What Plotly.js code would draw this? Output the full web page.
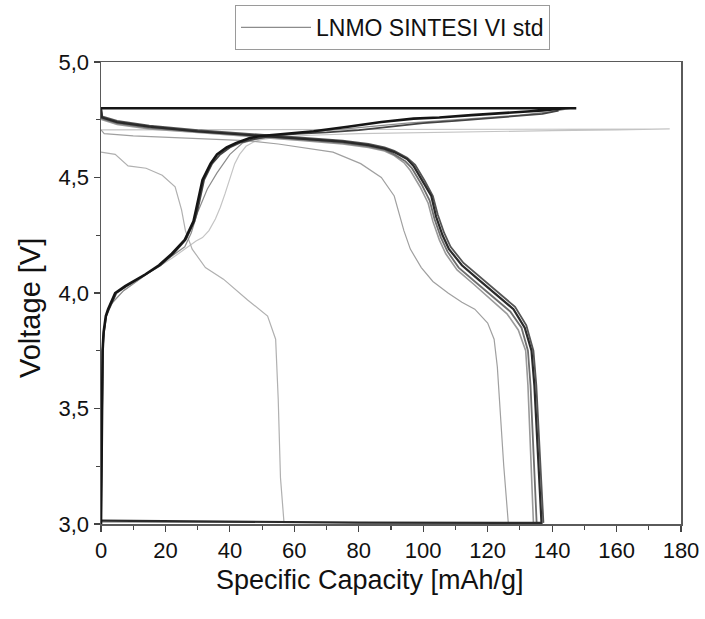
<!DOCTYPE html>
<html>
<head>
<meta charset="utf-8">
<script src="https://cdn.plot.ly/plotly-3.0.1.min.js"></script>
<style>html,body{margin:0;padding:0;background:#fff;}#chart{width:705px;height:619px;}</style>
</head>
<body>
<div id="chart"></div>
<script>
// ---- data (Specific Capacity mAh/g, Voltage V) ----
const seriesName = "LNMO SINTESI VI std";
const xTitle = "Specific Capacity [mAh/g]";
const yTitle = "Voltage [V]";

// cycle 1 charge (light, long plateau at 4.7 V) + return line
const c1ChargeX = [0, 0.4, 0.7, 1.5, 3, 7, 14, 22, 26, 27.7, 29.5, 31.5, 33.5, 35.5, 37, 38.5, 40, 41.5, 43, 45, 47.5, 50, 55, 65, 80, 100, 120, 140, 160, 176.5, 0];
const c1ChargeV = [3.0, 3.5, 3.8, 3.9, 3.95, 4.01, 4.08, 4.15, 4.19, 4.21, 4.225, 4.24, 4.27, 4.32, 4.37, 4.43, 4.50, 4.56, 4.60, 4.635, 4.655, 4.665, 4.675, 4.683, 4.69, 4.695, 4.70, 4.703, 4.706, 4.71, 4.706];

// cycle 1 discharge (~126 mAh/g) + return line
const c1DischX = [0, 1, 10, 30, 45, 55, 62, 72, 80.6, 87, 91, 92.5, 94, 96, 99.4, 103, 107.7, 112, 116, 120, 122, 123, 124, 125, 126.4, 0];
const c1DischV = [4.706, 4.69, 4.68, 4.67, 4.66, 4.645, 4.63, 4.61, 4.56, 4.5, 4.42, 4.35, 4.27, 4.19, 4.11, 4.05, 4.0, 3.96, 3.93, 3.87, 3.80, 3.68, 3.45, 3.25, 3.005, 3.008];

// short discharge (~57 mAh/g)
const shortDischX = [0, 4.4, 8.4, 14, 19, 23, 25, 26.2, 28.3, 32.4, 38, 45.5, 51.7, 54.2, 55, 55.7, 56.8];
const shortDischV = [4.61, 4.60, 4.55, 4.54, 4.51, 4.46, 4.36, 4.27, 4.19, 4.11, 4.06, 3.97, 3.90, 3.80, 3.54, 3.2, 3.005];

// cycle 2 charge (thin gray)
const c2ChargeX = [0, 0.4, 0.7, 1.5, 3, 7, 14, 22, 26, 28, 30, 33, 36, 40, 44, 48, 52, 60, 75, 95, 115, 130, 140, 146];
const c2ChargeV = [3.0, 3.5, 3.8, 3.9, 3.95, 4.01, 4.08, 4.16, 4.2, 4.26, 4.35, 4.45, 4.52, 4.6, 4.65, 4.665, 4.675, 4.69, 4.71, 4.735, 4.755, 4.77, 4.785, 4.80];

// dark charges + return line at 4.8 V
const chA_X = [0, 0.3, 0.5, 0.8, 1.5, 2.2, 4.4, 7.5, 13.7, 18, 22, 26, 28.7, 29.5, 31.5, 34, 36, 39, 42, 46, 49.5, 54, 58, 66, 76.6, 87, 97, 105, 115, 128, 137, 144, 147.5, 0];
const chA_V = [3.0, 3.5, 3.75, 3.83, 3.9, 3.93, 4.0, 4.03, 4.08, 4.12, 4.17, 4.23, 4.31, 4.36, 4.49, 4.56, 4.6, 4.63, 4.65, 4.67, 4.68, 4.685, 4.69, 4.70, 4.72, 4.74, 4.755, 4.76, 4.77, 4.78, 4.79, 4.80, 4.80, 4.80];
const chB_X = [0, 0.3, 0.5, 0.9, 1.6, 2.5, 4.8, 8, 14, 18.5, 22.5, 26.3, 29, 30, 32, 34.5, 37, 40, 43, 47, 51, 56, 62, 70, 80, 90, 100, 110, 120, 130, 137, 142];
const chB_V = [3.0, 3.5, 3.75, 3.83, 3.9, 3.93, 4.0, 4.03, 4.08, 4.12, 4.17, 4.23, 4.31, 4.36, 4.49, 4.56, 4.6, 4.63, 4.65, 4.665, 4.675, 4.685, 4.69, 4.695, 4.705, 4.72, 4.735, 4.745, 4.755, 4.765, 4.775, 4.79];

// dark discharges + return lines at 3.0 V
const dA_X = [0, 0.3, 5, 15, 30, 45, 55, 62, 75, 83, 88, 91, 95, 97, 100, 102.5, 104, 106, 108, 112, 117, 123, 128, 131.5, 133.6, 134.5, 135.5, 136.7, 80, 0];
const dA_V = [4.8, 4.76, 4.74, 4.72, 4.70, 4.685, 4.675, 4.67, 4.655, 4.64, 4.625, 4.61, 4.58, 4.55, 4.48, 4.42, 4.33, 4.25, 4.19, 4.12, 4.06, 3.99, 3.93, 3.85, 3.75, 3.6, 3.3, 3.005, 3.006, 3.015];
const dB_X = [0, 0.3, 5, 15, 30, 45, 55, 62, 75, 83, 88, 91, 94.5, 96.5, 99.5, 102, 103.5, 105.5, 107.5, 111, 116, 122, 127, 130.5, 132.5, 133.3, 134.2, 135.2];
const dB_V = [4.79, 4.755, 4.735, 4.715, 4.70, 4.685, 4.675, 4.665, 4.65, 4.635, 4.62, 4.60, 4.57, 4.54, 4.47, 4.40, 4.32, 4.24, 4.18, 4.11, 4.05, 3.98, 3.92, 3.85, 3.75, 3.6, 3.3, 3.005];
const dC_X = [0, 0.3, 5, 15, 30, 45, 55, 62, 75, 83, 88, 91, 94, 96, 99, 101.5, 103, 105, 107, 110.5, 115.5, 121, 126, 129.5, 131.8, 132.5, 133.3, 134.2];
const dC_V = [4.78, 4.75, 4.73, 4.71, 4.695, 4.68, 4.67, 4.66, 4.645, 4.63, 4.615, 4.595, 4.565, 4.53, 4.46, 4.39, 4.31, 4.23, 4.17, 4.10, 4.04, 3.97, 3.91, 3.84, 3.75, 3.6, 3.3, 3.005];
const dD_X = [0, 0.3, 5, 15, 30, 45, 55, 62, 75, 83, 88, 91, 95, 97.5, 100.5, 103, 104.5, 106.5, 108.5, 112.5, 117.5, 123.5, 128.5, 132, 134.2, 135.1, 136.1, 137.3];
const dD_V = [4.8, 4.765, 4.745, 4.725, 4.705, 4.69, 4.68, 4.67, 4.66, 4.645, 4.63, 4.615, 4.585, 4.555, 4.485, 4.42, 4.34, 4.26, 4.20, 4.13, 4.07, 4.0, 3.94, 3.86, 3.75, 3.6, 3.3, 3.005];

// ---- axes ticks ----
const xTicks = [0, 20, 40, 60, 80, 100, 120, 140, 160, 180];
const yTicks = [3.0, 3.5, 4.0, 4.5, 5.0];

function tr(x, y, color, width, legend) {
  return {x: x, y: y, type: 'scatter', mode: 'lines', name: seriesName,
    showlegend: !!legend, line: {color: color, width: width}, hoverinfo: 'skip'};
}

const traces = [
  tr(c1ChargeX, c1ChargeV, '#c4c4c4', 1.2),
  tr(shortDischX, shortDischV, '#b0b0b0', 1.2),
  tr(c1DischX, c1DischV, '#a0a0a0', 1.2),
  tr(c2ChargeX, c2ChargeV, '#8c8c8c', 1.2, true),
  tr(dC_X, dC_V, '#9a9a9a', 1.6),
  tr(dB_X, dB_V, '#6e6e6e', 1.8),
  tr(dD_X, dD_V, '#555555', 1.8),
  tr(chB_X, chB_V, '#444444', 1.8),
  tr(dA_X, dA_V, '#2a2a2a', 2.2),
  tr(chA_X, chA_V, '#151515', 2.6)
];

const axisCommon = {
  showline: true, mirror: true, linecolor: '#5a5a5a', linewidth: 1.5,
  ticks: 'outside', ticklen: 6, tickwidth: 1.2, tickcolor: '#444',
  showgrid: false, zeroline: false, automargin: false,
  tickfont: {family: 'Liberation Sans, Arial, sans-serif', size: 22, color: '#111'}
};

const layout = {
  width: 705, height: 619,
  margin: {l: 101, r: 24, t: 62, b: 95, autoexpand: false},
  paper_bgcolor: '#fff', plot_bgcolor: '#fff',
  separators: ',.',
  font: {family: 'Liberation Sans, Arial, sans-serif', color: '#111'},
  xaxis: Object.assign({}, axisCommon, {
    range: [0, 180], tickvals: xTicks, ticktext: xTicks.map(String), tickangle: 0,
    minor: {dtick: 10, tick0: 0, ticks: 'outside', ticklen: 4, tickcolor: '#444'}
  }),
  yaxis: Object.assign({}, axisCommon, {
    range: [3.0, 5.0], tickvals: yTicks, tickformat: '.1f',
    minor: {dtick: 0.25, tick0: 3, ticks: 'outside', ticklen: 4, tickcolor: '#444'}
  }),
  annotations: [
    {text: xTitle, xref: 'paper', yref: 'paper', x: (370 - 101) / 580, y: (524 - 580) / 462,
     xanchor: 'center', yanchor: 'middle', showarrow: false, font: {size: 27, color: '#111'}},
    {text: yTitle, xref: 'paper', yref: 'paper', x: (30 - 101) / 580, y: (524 - 308) / 462,
     xanchor: 'center', yanchor: 'middle', textangle: -90, showarrow: false, font: {size: 29, color: '#111'}}
  ],
  legend: {
    x: (235 - 101) / 580, y: 1 + (62 - 5) / 462, xanchor: 'left', yanchor: 'top',
    bordercolor: '#9a9a9a', borderwidth: 1, bgcolor: '#fff',
    font: {family: 'Liberation Sans, Arial, sans-serif', size: 23, color: '#111'},
    itemwidth: 70
  },
  showlegend: true
};

Plotly.newPlot('chart', traces, layout, {displayModeBar: false, staticPlot: true});
</script>
</body>
</html>
